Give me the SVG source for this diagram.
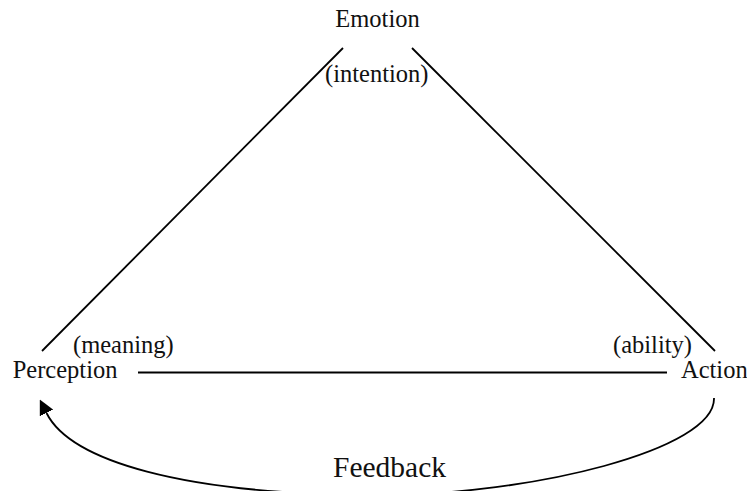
<svg xmlns="http://www.w3.org/2000/svg" width="747" height="491" viewBox="0 0 747 491">
  <style>
    .lbl { font-family: "Liberation Serif", "Times New Roman", serif; font-size: 24.5px; fill: #111; }
    .big { font-size: 29.5px; }
    .edge { fill: none; stroke: #000; stroke-width: 1.8; }
  </style>
  <defs>
    <marker id="arrow" markerUnits="userSpaceOnUse" viewBox="0 0 15 15" markerWidth="15" markerHeight="15" refX="0" refY="7.5" orient="auto">
      <path d="M0,0 L15,7.5 L0,15 z" fill="#000"/>
    </marker>
  </defs>

  <!-- triangle sides and feedback loop -->
  <g id="connectors">
    <line class="edge" x1="42" y1="351" x2="343" y2="48"/>
    <line class="edge" x1="412" y1="48" x2="715" y2="351"/>
    <line class="edge" x1="138" y1="372.5" x2="667" y2="372.5"/>
    <path class="edge" d="M714,398 C716,450 530,495 380,495 C180,495 70,460 46.5,413" marker-end="url(#arrow)"/>
  </g>

  <g id="emotion">
    <text class="lbl" x="377.5" y="27" text-anchor="middle">Emotion</text>
    <text class="lbl" x="325" y="82">(intention)</text>
  </g>

  <g id="perception">
    <text class="lbl" x="73" y="353">(meaning)</text>
    <text class="lbl" x="12.7" y="378">Perception</text>
  </g>

  <g id="action">
    <text class="lbl" x="613" y="353">(ability)</text>
    <text class="lbl" x="681" y="378">Action</text>
  </g>

  <g id="feedback">
    <text class="lbl big" x="333" y="477">Feedback</text>
  </g>
</svg>
